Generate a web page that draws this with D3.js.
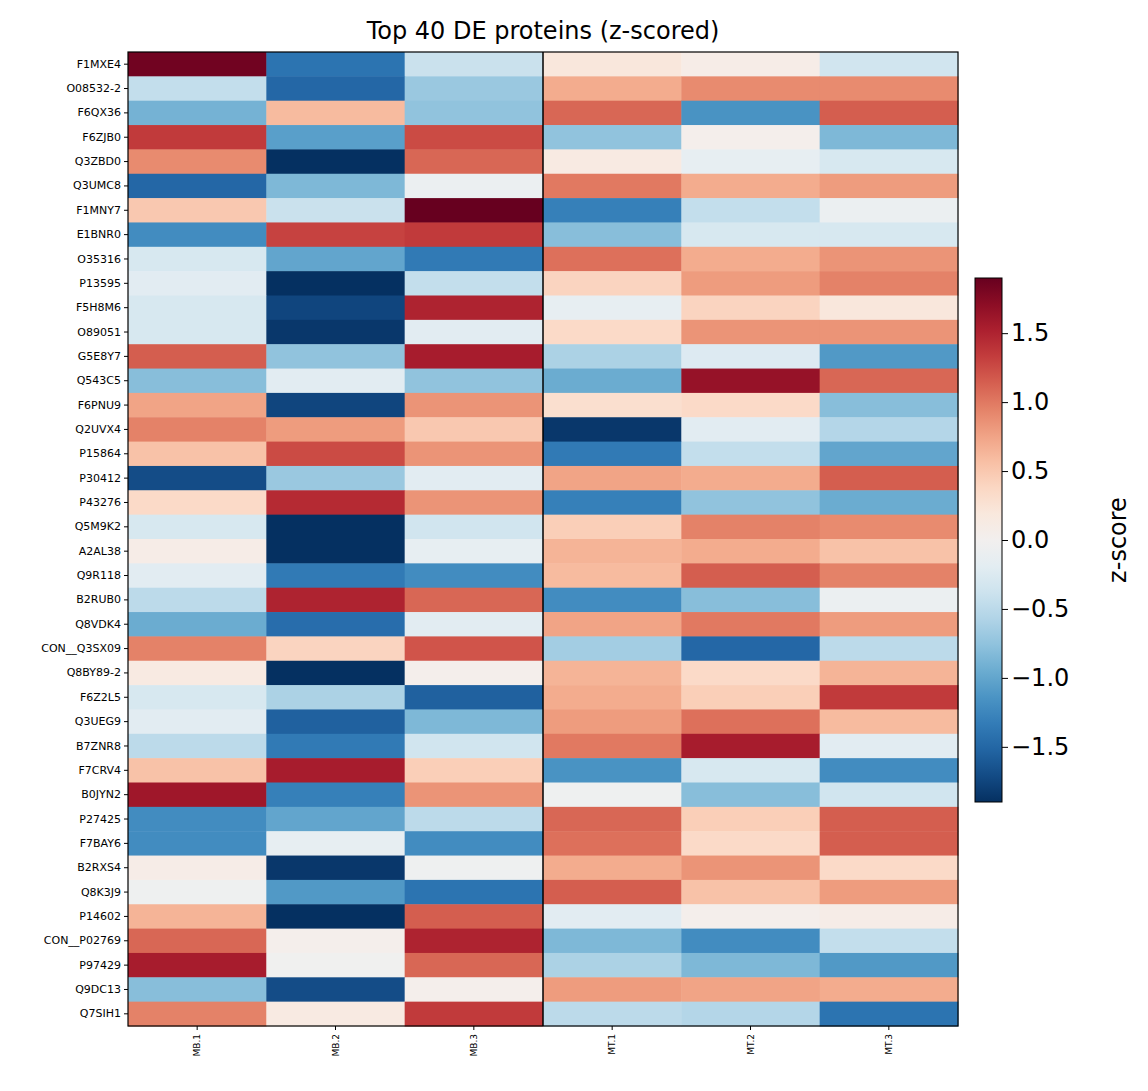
<!DOCTYPE html>
<html><head><meta charset="utf-8">
<script src="https://cdn.jsdelivr.net/npm/d3@7"></script>
<style>body{margin:0;background:#fff;font-family:"DejaVu Sans",sans-serif}</style>
</head><body><div id="chart"></div>
<script>
// Samples and proteins
const samples = ["MB.1","MB.2","MB.3","MT.1","MT.2","MT.3"];
const proteins = ["F1MXE4","O08532-2","F6QX36","F6ZJB0","Q3ZBD0","Q3UMC8","F1MNY7","E1BNR0","O35316","P13595",
  "F5H8M6","O89051","G5E8Y7","Q543C5","F6PNU9","Q2UVX4","P15864","P30412","P43276","Q5M9K2",
  "A2AL38","Q9R118","B2RUB0","Q8VDK4","CON__Q3SX09","Q8BY89-2","F6Z2L5","Q3UEG9","B7ZNR8","F7CRV4",
  "B0JYN2","P27425","F7BAY6","B2RXS4","Q8K3J9","P14602","CON__P02769","P97429","Q9DC13","Q7SIH1"];
// z-scores, one row per protein
const zscores = [
  [1.85,-1.4,-0.4,0.2,0.1,-0.35],[-0.45,-1.5,-0.7,0.7,0.9,0.9],[-0.9,0.6,-0.75,1.1,-1.15,1.15],
  [1.35,-1.05,1.25,-0.75,0.05,-0.85],[0.9,-1.9,1.1,0.15,-0.15,-0.3],[-1.5,-0.85,-0.1,1.0,0.7,0.8],
  [0.5,-0.4,1.9,-1.3,-0.45,-0.1],[-1.2,1.3,1.35,-0.8,-0.3,-0.3],[-0.3,-1.0,-1.35,1.05,0.7,0.85],
  [-0.2,-1.9,-0.45,0.4,0.8,0.95],[-0.3,-1.75,1.5,-0.15,0.4,0.2],[-0.3,-1.85,-0.2,0.35,0.85,0.85],
  [1.15,-0.75,1.55,-0.6,-0.25,-1.1],[-0.8,-0.2,-0.75,-0.95,1.65,1.1],[0.75,-1.75,0.85,0.3,0.35,-0.8],
  [0.95,0.8,0.5,-1.85,-0.2,-0.55],[0.55,1.25,0.85,-1.35,-0.45,-1.0],[-1.7,-0.7,-0.2,0.75,0.7,1.15],
  [0.35,1.45,0.85,-1.3,-0.75,-0.95],[-0.3,-1.9,-0.35,0.45,0.95,0.9],[0.1,-1.9,-0.15,0.65,0.7,0.55],
  [-0.2,-1.35,-1.2,0.6,1.15,0.95],[-0.5,1.5,1.1,-1.2,-0.8,-0.1],[-0.95,-1.45,-0.2,0.75,1.0,0.8],
  [0.95,0.4,1.2,-0.65,-1.5,-0.5],[0.15,-1.9,0.05,0.65,0.35,0.65],[-0.3,-0.6,-1.55,0.7,0.45,1.35],
  [-0.2,-1.55,-0.85,0.8,1.05,0.6],[-0.5,-1.35,-0.35,1.0,1.55,-0.2],[0.55,1.55,0.45,-1.15,-0.3,-1.2],
  [1.6,-1.3,0.85,-0.05,-0.8,-0.35],[-1.2,-1.0,-0.5,1.1,0.45,1.15],[-1.2,-0.15,-1.2,1.05,0.35,1.15],
  [0.1,-1.85,-0.05,0.7,0.85,0.35],[-0.05,-1.1,-1.4,1.15,0.55,0.8],[0.65,-1.9,1.15,-0.2,0.05,0.1],
  [1.1,0.05,1.5,-0.85,-1.2,-0.45],[1.55,-0.02,1.1,-0.6,-0.85,-1.1],[-0.8,-1.7,0.05,0.8,0.75,0.7],
  [0.95,0.15,1.35,-0.5,-0.55,-1.4]];
const cbTicks = [-1.5,-1.0,-0.5,0,0.5,1.0,1.5];
const vmax = 1.9;

const W = 1148, H = 1091;
const mLeft = 128, mRight = 958, mTop = 52, mBottom = 1026;

const svg = d3.select("#chart").append("svg").attr("width", W).attr("height", H);

const x = d3.scaleBand().domain(samples).range([mLeft, mRight]);
const y = d3.scaleBand().domain(proteins).range([mTop, mBottom]);
const color = v => d3.interpolateRdBu(1 - (v + vmax) / (2 * vmax));

// cells
const cells = [];
zscores.forEach((row, i) => row.forEach((v, j) => cells.push({p: proteins[i], s: samples[j], v})));
svg.selectAll("rect.cell").data(cells).enter().append("rect")
  .attr("x", d => x(d.s)).attr("y", d => y(d.p))
  .attr("width", x.bandwidth() + 0.5).attr("height", y.bandwidth() + 0.5)
  .attr("fill", d => color(d.v));

// divider between MB and MT
svg.append("line").attr("x1", x("MT.1")).attr("x2", x("MT.1"))
  .attr("y1", mTop).attr("y2", mBottom).attr("stroke", "#000").attr("stroke-width", 1.5);

svg.append("rect").attr("x", mLeft).attr("y", mTop).attr("width", mRight - mLeft).attr("height", mBottom - mTop)
  .attr("fill", "none").attr("stroke", "#000").attr("stroke-width", 1.2);

// axes
const yAx = svg.append("g").attr("transform", `translate(${mLeft},0)`).call(d3.axisLeft(y).tickSize(4));
yAx.select(".domain").remove();
yAx.selectAll("text").style("font-size", "11px").style("font-family", "DejaVu Sans");

const xAx = svg.append("g").attr("transform", `translate(0,${mBottom})`).call(d3.axisBottom(x).tickSize(4));
xAx.select(".domain").remove();
xAx.selectAll("text").style("font-size", "9px").style("font-family", "DejaVu Sans")
  .attr("transform", "rotate(-90)").attr("text-anchor", "end").attr("x", -8).attr("y", 0).attr("dy", "0.35em");

svg.append("text").attr("x", (mLeft + mRight) / 2).attr("y", 39).attr("text-anchor", "middle")
  .style("font-size", "24px").text("Top 40 DE proteins (z-scored)");

// colorbar
const cbX = 975, cbW = 27, cbTop = 278, cbBot = 802;
const cbY = d3.scaleLinear().domain([-vmax, vmax]).range([cbBot, cbTop]);
const defs = svg.append("defs");
const grad = defs.append("linearGradient").attr("id", "cb").attr("x1", 0).attr("x2", 0).attr("y1", 1).attr("y2", 0);
d3.range(0, 1.0001, 0.05).forEach(t => grad.append("stop").attr("offset", t).attr("stop-color", color(-vmax + t * 2 * vmax)));
svg.append("rect").attr("x", cbX).attr("y", cbTop).attr("width", cbW).attr("height", cbBot - cbTop)
  .attr("fill", "url(#cb)").attr("stroke", "#000").attr("stroke-width", 1);
const cbAx = svg.append("g").attr("transform", `translate(${cbX + cbW},0)`)
  .call(d3.axisRight(cbY).tickValues(cbTicks).tickSize(6).tickFormat(d => d3.format(".1f")(d).replace("-", "\u2212")));
cbAx.select(".domain").remove();
cbAx.selectAll("text").style("font-size", "24px").style("font-family", "DejaVu Sans");
svg.append("text").attr("transform", `translate(1126,${(cbTop + cbBot) / 2}) rotate(-90)`)
  .attr("text-anchor", "middle").style("font-size", "24px").text("z-score");
</script></body></html>
